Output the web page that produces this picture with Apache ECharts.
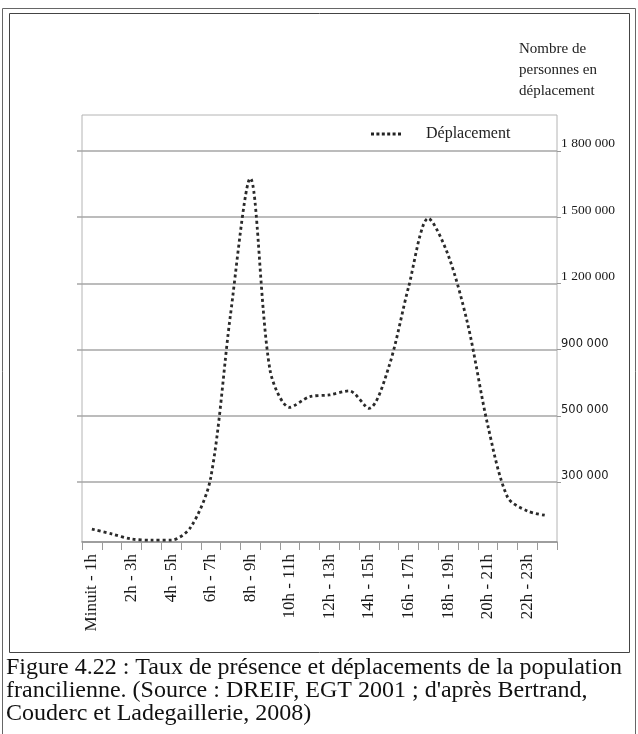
<!DOCTYPE html>
<html>
<head>
<meta charset="utf-8">
<script src="https://cdn.jsdelivr.net/npm/echarts@6/dist/echarts.min.js"></script>
<style>
  html, body { margin: 0; padding: 0; background: #fff; }
  #chart { width: 638px; height: 734px; }
</style>
</head>
<body>
<div id="chart"></div>
<script>
// Hourly time slots (one category per hour)
const hours = [
  "Minuit - 1h", "1h - 2h", "2h - 3h", "3h - 4h", "4h - 5h", "5h - 6h",
  "6h - 7h", "7h - 8h", "8h - 9h", "9h - 10h", "10h - 11h", "11h - 12h",
  "12h - 13h", "13h - 14h", "14h - 15h", "15h - 16h", "16h - 17h", "17h - 18h",
  "18h - 19h", "19h - 20h", "20h - 21h", "21h - 22h", "22h - 23h", "23h - Minuit"
];

// Number of people travelling during each hour
const deplacement = [
  87000, 65000, 42000, 37000, 37000, 96000,
  312000, 1056000, 1675000, 776000, 551000, 615000,
  626000, 650000, 545000, 794000, 1183000, 1494000,
  1328000, 1011000, 472000, 232000, 169000, 148000
];

// Graduations of the person axis (evenly spaced on the chart)
const tickValues = [300000, 500000, 900000, 1200000, 1500000, 1800000];
const tickLabels = ["300 000", "500 000", "900 000", "1 200 000", "1 500 000", "1 800 000"];

// The axis is graduated in steps: each graduation is one level.
// Map a number of persons to its level, linearly between graduations.
const anchorsV = [0].concat(tickValues);
function levelOf(v) {
  for (let i = 1; i < anchorsV.length; i++) {
    if (v <= anchorsV[i] || i === anchorsV.length - 1) {
      const a = anchorsV[i - 1], b = anchorsV[i];
      return (i - 1) + (v - a) / (b - a);
    }
  }
  return 0;
}
const tickLevels = tickValues.map(levelOf);
const levelLabel = {};
tickLevels.forEach((l, i) => { levelLabel[l] = tickLabels[i]; });

const serif = '"Liberation Serif", "DejaVu Serif", serif';
const sans = '"DejaVu Sans", sans-serif';

// Legend key: a row of six square dots
const dotsIcon = 'path://M0,0h3v3h-3z M5.4,0h3v3h-3z M10.8,0h3v3h-3z M16.2,0h3v3h-3z M21.6,0h3v3h-3z M27,0h3v3h-3z';

const chart = echarts.init(document.getElementById('chart'), null, { renderer: 'canvas' });

chart.setOption({
  animation: false,
  backgroundColor: '#ffffff',
  grid: {
    left: 82, right: 81, top: 115, bottom: 192,
    show: true, borderColor: '#b4b4b4', borderWidth: 1, backgroundColor: 'transparent'
  },
  title: {
    text: 'Nombre de\npersonnes en\ndéplacement',
    left: 514, top: 34,
    textStyle: { fontFamily: serif, fontSize: 15, fontWeight: 'normal', color: '#222', lineHeight: 21 }
  },
  legend: {
    data: [{ name: 'Déplacement', icon: dotsIcon }],
    left: 366, top: 121,
    itemWidth: 30, itemHeight: 4, itemGap: 10,
    itemStyle: { color: '#222' },
    textStyle: { fontFamily: serif, fontSize: 16, color: '#222', padding: [0, 0, 0, 20] }
  },
  xAxis: {
    type: 'category',
    data: hours,
    boundaryGap: true,
    axisLine: { lineStyle: { color: '#8a8a8a', width: 1.5 } },
    axisTick: { show: true, interval: 0, length: 8, lineStyle: { color: '#9a9a9a' } },
    axisLabel: {
      interval: 1, rotate: 90, margin: 12,
      fontFamily: serif, fontSize: 17, color: '#1a1a1a'
    },
    splitLine: { show: false }
  },
  yAxis: [
    {
      type: 'value',
      position: 'right',
      min: 0.095, max: 6.54,
      axisLine: { show: false },
      axisTick: { show: true, inside: false, length: 4, customValues: tickLevels, lineStyle: { color: '#999' } },
      splitLine: { show: true, lineStyle: { color: '#a6a6a6', width: 1.5 } },
      axisLabel: {
        customValues: tickLevels,
        margin: 4,
        verticalAlign: 'bottom',
        formatter: function (val) {
          const txt = levelLabel[val] || '';
          return val >= 3.5 ? '{s|' + txt + '}' : '{n|' + txt + '}';
        },
        rich: {
          s: { fontFamily: serif, fontSize: 13.5, color: '#1a1a1a' },
          n: { fontFamily: sans, fontSize: 11.5, color: '#1a1a1a' }
        }
      }
    },
    {
      type: 'value',
      position: 'left',
      min: 0.095, max: 6.54,
      axisLine: { show: false },
      axisTick: { show: true, length: 5, customValues: tickLevels, lineStyle: { color: '#a6a6a6', width: 1.5 } },
      axisLabel: { show: false },
      splitLine: { show: false }
    }
  ],
  series: [
    {
      name: 'Déplacement',
      type: 'line',
      yAxisIndex: 0,
      data: deplacement.map(levelOf),
      smooth: 0.3,
      symbol: 'none',
      lineStyle: { color: '#2a2a2a', width: 2.8, type: [3, 3], cap: 'butt' },
      itemStyle: { color: '#2a2a2a' }
    }
  ],
  graphic: [
    {
      type: 'rect', silent: true,
      shape: { x: 2.5, y: 8.5, width: 633, height: 740 },
      style: { fill: 'none', stroke: '#666', lineWidth: 1 }
    },
    {
      type: 'rect', silent: true,
      shape: { x: 9.5, y: 13.5, width: 620, height: 639 },
      style: { fill: 'none', stroke: '#444', lineWidth: 1 }
    },
    {
      type: 'text', silent: true,
      left: 6, top: 656,
      style: {
        text: 'Figure 4.22 : Taux de présence et déplacements de la population\nfrancilienne. (Source : DREIF, EGT 2001 ; d\'après Bertrand,\nCouderc et Ladegaillerie, 2008)',
        font: '24px ' + serif,
        fill: '#111',
        lineHeight: 23
      }
    }
  ]
});
</script>
</body>
</html>
